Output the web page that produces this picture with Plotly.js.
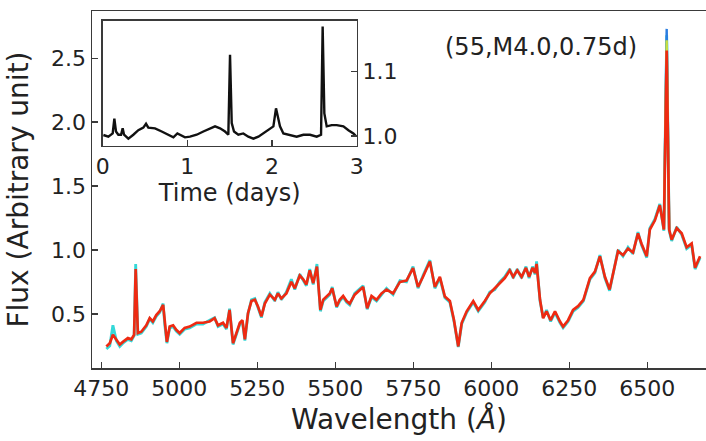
<!DOCTYPE html>
<html>
<head>
<meta charset="utf-8">
<script src="https://cdn.plot.ly/plotly-3.0.1.min.js"></script>
<style>html,body{margin:0;padding:0;background:#fff;}#chart{width:706px;height:441px;}</style>
</head>
<body>
<div id="chart"></div>
<script>
// Spectrum: wavelength (Å) and flux (arbitrary unit)
const wavelength = [4766,4777,4787,4798,4809,4819,4835,4846,4855,4860,4867,4878,4894,4905,4915,4926,4937,4948,4953,4960,4969,4980,4990,5001,5017,5033,5055,5076,5097,5113,5124,5140,5151,5161,5172,5183,5194,5202,5210,5220,5231,5242,5252,5263,5274,5290,5306,5316,5327,5343,5359,5370,5386,5397,5407,5418,5429,5441,5452,5461,5472,5482,5490,5504,5514,5525,5536,5546,5562,5578,5589,5602,5616,5632,5648,5664,5685,5707,5728,5749,5765,5781,5803,5819,5835,5851,5867,5880,5894,5905,5921,5942,5958,5979,5995,6011,6027,6043,6059,6070,6083,6097,6111,6121,6132,6140,6145,6156,6166,6177,6190,6204,6220,6230,6246,6262,6278,6295,6316,6332,6348,6364,6379,6395,6406,6422,6438,6454,6470,6481,6498,6508,6524,6540,6553,6562,6570,6578,6594,6610,6626,6642,6653,6669];
const fluxLate = [0.245,0.27,0.336,0.30,0.26,0.28,0.31,0.30,0.336,0.85,0.35,0.36,0.41,0.466,0.44,0.49,0.52,0.57,0.43,0.28,0.40,0.41,0.375,0.35,0.39,0.40,0.43,0.43,0.44,0.466,0.41,0.43,0.39,0.53,0.27,0.36,0.43,0.45,0.30,0.505,0.60,0.61,0.557,0.48,0.58,0.65,0.61,0.66,0.62,0.66,0.75,0.70,0.80,0.77,0.73,0.84,0.74,0.87,0.53,0.61,0.64,0.66,0.70,0.557,0.61,0.64,0.60,0.58,0.65,0.69,0.71,0.544,0.64,0.61,0.66,0.69,0.66,0.75,0.76,0.857,0.71,0.79,0.91,0.71,0.79,0.635,0.60,0.453,0.245,0.43,0.52,0.60,0.53,0.60,0.66,0.70,0.74,0.78,0.84,0.79,0.84,0.79,0.86,0.79,0.86,0.82,0.89,0.61,0.466,0.52,0.45,0.52,0.44,0.40,0.45,0.53,0.56,0.61,0.78,0.83,0.95,0.79,0.69,0.86,0.99,0.96,1.01,0.98,1.13,1.05,0.95,1.16,1.23,1.35,1.16,2.56,1.16,1.08,1.17,1.13,1.02,1.05,0.86,0.95];
const fluxEarly = [0.225,0.25,0.41,0.29,0.245,0.27,0.30,0.29,0.33,0.89,0.34,0.35,0.40,0.46,0.43,0.48,0.51,0.58,0.42,0.27,0.39,0.40,0.365,0.34,0.38,0.39,0.42,0.42,0.45,0.47,0.40,0.42,0.38,0.54,0.26,0.35,0.42,0.44,0.29,0.50,0.61,0.62,0.55,0.47,0.59,0.66,0.60,0.67,0.61,0.67,0.77,0.69,0.81,0.76,0.72,0.85,0.73,0.89,0.52,0.60,0.63,0.65,0.71,0.55,0.60,0.63,0.59,0.57,0.66,0.70,0.72,0.535,0.63,0.60,0.65,0.70,0.65,0.76,0.75,0.87,0.70,0.80,0.92,0.70,0.78,0.625,0.59,0.445,0.24,0.42,0.51,0.59,0.52,0.59,0.67,0.69,0.75,0.79,0.85,0.78,0.85,0.78,0.87,0.78,0.87,0.81,0.91,0.60,0.47,0.53,0.44,0.51,0.43,0.39,0.44,0.52,0.55,0.60,0.77,0.82,0.96,0.78,0.68,0.87,1.00,0.95,1.02,0.97,1.14,1.04,0.94,1.17,1.24,1.36,1.15,2.68,1.15,1.07,1.18,1.12,1.01,1.04,0.85,0.94];
const haWave = [6553,6562,6570];
const haBlue = [1.16,2.73,1.16];
const haYellow = [1.16,2.64,1.16];

// Inset light curve: time (days) and relative flux
const timeDays = [0.008,0.067,0.118,0.138,0.157,0.185,0.217,0.236,0.252,0.303,0.362,0.421,0.480,0.512,0.539,0.618,0.697,0.776,0.835,0.882,0.913,0.972,1.031,1.110,1.189,1.268,1.327,1.386,1.445,1.484,1.504,1.524,1.551,1.602,1.661,1.720,1.780,1.839,1.898,1.976,2.016,2.047,2.067,2.094,2.134,2.213,2.291,2.370,2.449,2.528,2.579,2.598,2.618,2.646,2.705,2.764,2.843,2.902,2.961,2.992];
const lcFlux = [1.0016,0.999,1.004,1.027,1.007,1.002,1.002,1.012,1.002,0.996,1.002,1.009,1.013,1.019,1.013,1.012,1.007,1.002,0.998,1.004,1.002,0.998,0.999,1.002,1.007,1.012,1.015,1.012,1.007,1.002,1.126,1.020,1.007,1.002,1.004,0.999,0.996,0.999,1.004,1.012,1.015,1.043,1.030,1.015,1.004,1.002,0.999,1.002,1.002,0.999,1.002,1.170,1.035,1.015,1.017,1.017,1.015,1.009,1.004,1.000];

const mainTicksX = [4750,5000,5250,5500,5750,6000,6250,6500];
const mainTicksY = [0.5,1.0,1.5,2.0,2.5];
const insetTicksX = [0,1,2,3];
const insetTicksY = [1.0,1.1];
const label = '(55,M4.0,0.75d)';

const FONT = 'DejaVu Sans, sans-serif';
const TXT = '#222222';
const SPINE = '#3a3a3a';

const traces = [
  {x: wavelength, y: fluxEarly, type:'scatter', mode:'lines', line:{color:'#35d8d8', width:2.8}, xaxis:'x', yaxis:'y', hoverinfo:'skip'},
  {x: haWave, y: haBlue, type:'scatter', mode:'lines', line:{color:'#2a7de0', width:2.4}, xaxis:'x', yaxis:'y', hoverinfo:'skip'},
  {x: haWave, y: haYellow, type:'scatter', mode:'lines', line:{color:'#c8e040', width:2.4}, xaxis:'x', yaxis:'y', hoverinfo:'skip'},
  {x: wavelength, y: fluxLate, type:'scatter', mode:'lines', line:{color:'#ee2a12', width:2.7}, xaxis:'x', yaxis:'y', hoverinfo:'skip'},
  {x: timeDays, y: lcFlux, type:'scatter', mode:'lines', line:{color:'#111111', width:2.4}, xaxis:'x2', yaxis:'y2', hoverinfo:'skip'}
];

const layout = {
  width:706, height:441,
  margin:{l:92, r:0, t:11, b:73},
  paper_bgcolor:'#ffffff', plot_bgcolor:'rgba(0,0,0,0)',
  showlegend:false,
  font:{family:FONT, color:TXT, size:22},
  xaxis:{
    domain:[0,1], range:[4720,6688], tickvals:mainTicksX, ticktext:mainTicksX.map(String),
    ticks:'inside', ticklen:6, tickwidth:1.5, tickcolor:SPINE,
    showline:true, linecolor:SPINE, linewidth:1.5, mirror:true,
    showgrid:false, zeroline:false, tickfont:{size:22, family:FONT, color:TXT},
    title:{text:'Wavelength (<i>Å</i>)', font:{size:28, family:FONT, color:TXT}, standoff:9}
  },
  yaxis:{
    domain:[0,1], range:[0.076,2.87], tickvals:mainTicksY, ticktext:mainTicksY.map(v=>v.toFixed(1)),
    ticks:'inside', ticklen:6, tickwidth:1.5, tickcolor:SPINE,
    showline:true, linecolor:SPINE, linewidth:1.5,
    showgrid:false, zeroline:false, tickfont:{size:22, family:FONT, color:TXT},
    title:{text:'Flux (Arbitrary unit)', font:{size:28, family:FONT, color:TXT}, standoff:14}
  },
  xaxis2:{
    domain:[0.0174,0.4311], range:[0,3], anchor:'y2', tickvals:insetTicksX, ticktext:insetTicksX.map(String),
    ticks:'inside', ticklen:6, tickwidth:1.5, tickcolor:SPINE,
    showline:true, linecolor:SPINE, linewidth:1.5, mirror:true,
    showgrid:false, zeroline:false, tickfont:{size:22, family:FONT, color:TXT},
    title:{text:'Time (days)', font:{size:24, family:FONT, color:TXT}, standoff:4}
  },
  yaxis2:{
    domain:[0.6227,0.9728], range:[0.985,1.179], anchor:'x2', side:'right',
    tickvals:insetTicksY, ticktext:insetTicksY.map(v=>v.toFixed(1)),
    ticks:'inside', ticklen:6, tickwidth:1.5, tickcolor:SPINE,
    showline:true, linecolor:SPINE, linewidth:1.5, mirror:true,
    showgrid:false, zeroline:false, tickfont:{size:22, family:FONT, color:TXT}
  },
  annotations:[
    {text:label, xref:'paper', yref:'paper', x:0.7305, y:0.900, xanchor:'center', yanchor:'middle',
     showarrow:false, font:{size:24, family:FONT, color:TXT}}
  ]
};

Plotly.newPlot('chart', traces, layout, {staticPlot:true, displayModeBar:false});
</script>
</body>
</html>
